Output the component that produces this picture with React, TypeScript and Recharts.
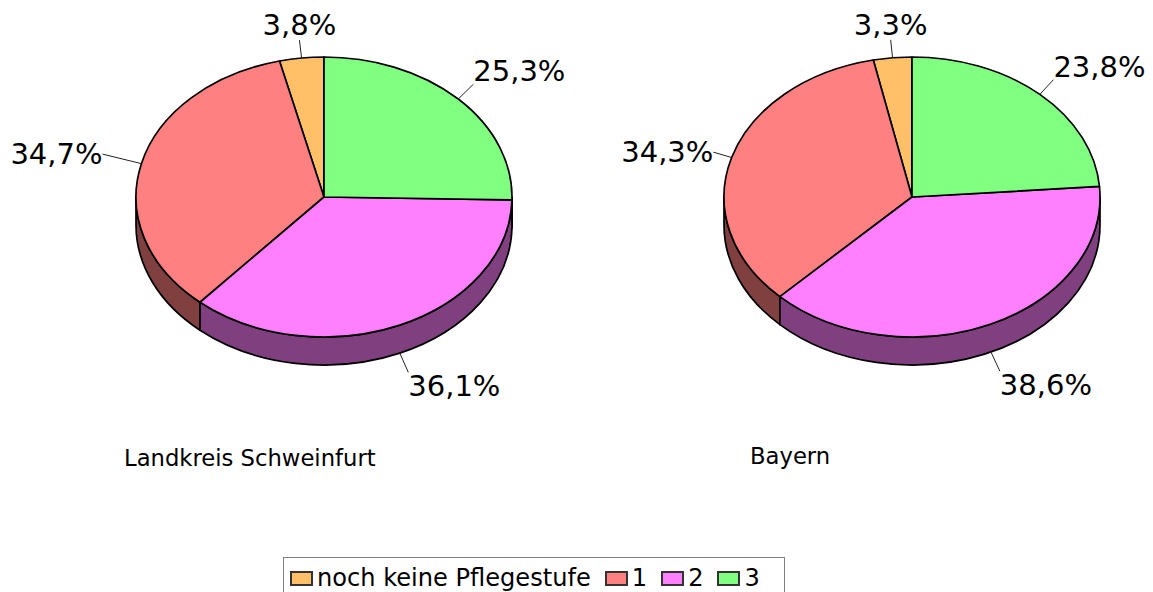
import { PieChart, Pie, Cell, Legend } from 'recharts'

const categories = ['noch keine Pflegestufe', '1', '2', '3']
const schweinfurtValues = [3.8, 34.7, 36.1, 25.3]
const bayernValues = [3.3, 34.3, 38.6, 23.8]
const topColors = ['#ffc068', '#ff8080', '#ff80ff', '#80ff80']
const wallColors = ['#806034', '#804040', '#804080', '#408040']
const schweinfurtLeaders = [18, 40, 21, 21]
const bayernLeaders = [18, 19, 21, 20]

const FONT = '"DejaVu Sans", Verdana, sans-serif'
const RX = 188
const SQUASH = 140 / 188
const DEPTH = 28
const RAD = Math.PI / 180

const toRows = (values: number[]) => values.map((value, i) => ({ name: categories[i], value }))

// flat pie with a rim: the top is an ellipse, the front half gets a wall
function TiltedSector(props: any) {
  const { cx, cy, outerRadius, startAngle, endAngle, index } = props
  const ry = outerRadius * SQUASH
  const px = (a: number) => cx + outerRadius * Math.cos(a * RAD)
  const py = (a: number) => cy - ry * Math.sin(a * RAD)
  const large = Math.abs(endAngle - startAngle) > 180 ? 1 : 0
  const top = `M${cx},${cy} L${px(startAngle)},${py(startAngle)} A${outerRadius},${ry} 0 ${large} 0 ${px(endAngle)},${py(endAngle)} Z`

  const a0 = Math.max(startAngle, 180)
  const a1 = Math.min(endAngle, 360)
  const wall =
    a1 > a0
      ? `M${px(a0)},${py(a0)} A${outerRadius},${ry} 0 0 0 ${px(a1)},${py(a1)} L${px(a1)},${py(a1) + DEPTH} A${outerRadius},${ry} 0 0 1 ${px(a0)},${py(a0) + DEPTH} Z`
      : null

  return (
    <g>
      {wall && <path d={wall} fill={wallColors[index]} stroke="#000" strokeWidth={1.7} strokeLinejoin="round" />}
      <path d={top} fill={topColors[index]} stroke="#000" strokeWidth={1.7} strokeLinejoin="round" />
    </g>
  )
}

function makeLabel(leaders: number[]) {
  return function SliceLabel(props: any) {
    const { cx, cy, outerRadius, midAngle, value, index } = props
    const ry = outerRadius * SQUASH
    const c = Math.cos(midAngle * RAD)
    const s = Math.sin(midAngle * RAD)
    const x0 = cx + outerRadius * c
    const y0 = cy - ry * s + (s < 0 ? DEPTH : 0)
    const x1 = x0 + c * leaders[index]
    const y1 = y0 - s * leaders[index]
    const anchor = Math.abs(c) < 0.3 ? 'middle' : c > 0 ? 'start' : 'end'
    const above = Math.abs(c) < 0.3 ? -15 : -13
    const dy = Math.abs(s) > 0.5 ? (s > 0 ? above : 14) : 0
    return (
      <g>
        <line x1={x0} y1={y0} x2={x1} y2={y1} stroke="#222" strokeWidth={1} />
        <text x={x1} y={y1 + dy} textAnchor={anchor} dominantBaseline="central" fontFamily={FONT} fontSize={29} fill="#000">
          {value.toFixed(1).replace('.', ',')}%
        </text>
      </g>
    )
  }
}

function BoxLegend() {
  return (
    <div
      style={{
        boxSizing: 'border-box',
        width: 502,
        height: 50,
        border: '1px solid #808080',
        background: '#fff',
        display: 'flex',
        alignItems: 'flex-start',
        paddingLeft: 6,
        paddingTop: 6,
        fontFamily: FONT,
        fontSize: 24.1,
        lineHeight: '28px',
        color: '#000',
      }}
    >
      {categories.map((name, i) => (
        <span key={name} style={{ display: 'flex', alignItems: 'center', marginRight: 14, whiteSpace: 'nowrap' }}>
          <span
            style={{
              boxSizing: 'border-box',
              width: 23,
              height: 15,
              marginRight: 4,
              background: topColors[i],
              border: '2px solid #333',
            }}
          />
          {name}
        </span>
      ))}
    </div>
  )
}

export default function App() {
  return (
    <div style={{ position: 'absolute', left: 0, top: 0, width: 1153, height: 592, overflow: 'hidden', background: '#fff' }}>
      <PieChart width={1153} height={592} margin={{ top: 0, right: 0, bottom: 0, left: 0 }}>
        <Pie
          data={toRows(schweinfurtValues)}
          dataKey="value"
          cx={324}
          cy={197}
          outerRadius={RX}
          startAngle={90}
          endAngle={450}
          stroke="none"
          shape={TiltedSector}
          label={makeLabel(schweinfurtLeaders)}
          labelLine={false}
          isAnimationActive={false}
        >
          {categories.map((c, i) => (
            <Cell key={c} fill={topColors[i]} />
          ))}
        </Pie>
        <Pie
          data={toRows(bayernValues)}
          dataKey="value"
          cx={912}
          cy={197}
          outerRadius={RX}
          startAngle={90}
          endAngle={450}
          stroke="none"
          shape={TiltedSector}
          label={makeLabel(bayernLeaders)}
          labelLine={false}
          isAnimationActive={false}
        >
          {categories.map((c, i) => (
            <Cell key={c} fill={topColors[i]} />
          ))}
        </Pie>
        <text x={124} y={458} dominantBaseline="central" fontFamily={FONT} fontSize={22.7} fill="#000">
          Landkreis Schweinfurt
        </text>
        <text x={750} y={456} dominantBaseline="central" fontFamily={FONT} fontSize={22.7} fill="#000">
          Bayern
        </text>
        <Legend content={<BoxLegend />} layout="horizontal" wrapperStyle={{ left: 283, top: 557, width: 502, bottom: 'auto' }} />
      </PieChart>
    </div>
  )
}
